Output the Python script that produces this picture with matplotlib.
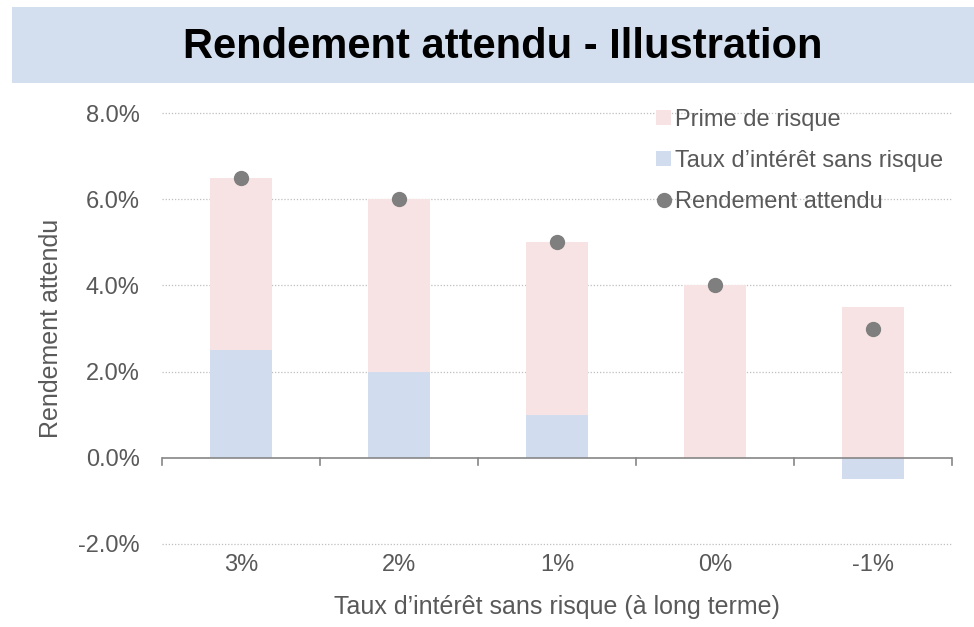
import numpy as np
import matplotlib
matplotlib.use('Agg')
import matplotlib.pyplot as plt
from matplotlib.patches import Rectangle
from matplotlib.lines import Line2D
from matplotlib.patches import Patch

plt.rcParams['font.family'] = ['Liberation Sans', 'DejaVu Sans']

# data
categories = ['3%', '2%', '1%', '0%', '-1%']
taux_sans_risque = [2.5, 2.0, 1.0, 0.0, -0.5]
prime_risque = [4.0, 4.0, 4.0, 4.0, 3.5]
rendement = [6.5, 6.0, 5.0, 4.0, 3.0]

col_pink = '#F8E3E4'
col_blue = '#D1DCEE'
col_dot = '#7F7F7F'
col_text = '#595959'

fig = plt.figure(figsize=(9.74, 6.27), dpi=100)
W, H = 974.0, 627.0

# title band
fig.patches.append(Rectangle((12 / W, 1 - 83 / H), 1 - 12 / W, 76 / H,
                             transform=fig.transFigure, facecolor='#D3DEEF',
                             edgecolor='none', zorder=0))
fig.text(503 / W, 1 - 47 / H, 'Rendement attendu - Illustration',
         ha='center', va='center', fontsize=30, fontweight='bold', color='black')

ax = fig.add_axes([162 / W, 1 - 544 / H, 790 / W, 431 / H])

x = np.arange(len(categories))
width = 0.39
# blue from 0 (negative goes down), pink on top of the positive part
bottom_pink = [max(v, 0) for v in taux_sans_risque]
ax.bar(x, taux_sans_risque, width, color=col_blue, zorder=2)
ax.bar(x, prime_risque, width, bottom=bottom_pink, color=col_pink, zorder=2)
ax.plot(x, rendement, 'o', color=col_dot, markersize=10, zorder=3)

ax.set_xlim(-0.5, len(categories) - 0.5)
ax.set_ylim(-2, 8)
ax.set_yticks([-2, 0, 2, 4, 6, 8])
ax.set_yticklabels(['%.1f%%' % v for v in [-2, 0, 2, 4, 6, 8]])
for v in [-2, 2, 4, 6, 8]:
    ax.axhline(v, color='#BFBFBF', lw=0.9, ls=(0, (1, 1.5)), zorder=1, clip_on=False)
ax.axhline(0, color='#868686', lw=1.2, zorder=4)

# category ticks between bars
ax.set_xticks(x)
ax.set_xticklabels(categories)
ax.tick_params(axis='x', length=0, pad=7, labelsize=17, labelcolor=col_text)
ax.tick_params(axis='y', length=0, pad=16, labelsize=17, labelcolor=col_text)
for xb in np.arange(-0.5, len(categories)):
    ax.plot([xb, xb], [0, -0.17], color='#868686', lw=1.2, clip_on=False, zorder=4)

for s in ax.spines.values():
    s.set_visible(False)

ax.set_xlabel("Taux d\u2019int\u00e9r\u00eat sans risque (\u00e0 long terme)",
              fontsize=18, color=col_text, labelpad=14)
ax.set_ylabel('Rendement attendu', fontsize=18, color=col_text, labelpad=11)

handles = [Patch(facecolor=col_pink, edgecolor='none'),
           Patch(facecolor=col_blue, edgecolor='none'),
           Line2D([], [], marker='o', ls='none', color=col_dot, markersize=10)]
labels = ['Prime de risque', "Taux d\u2019int\u00e9r\u00eat sans risque", 'Rendement attendu']
leg = ax.legend(handles, labels, loc='upper left', bbox_to_anchor=(0.599, 1.059),
                frameon=False, fontsize=17, labelcolor=col_text,
                handlelength=0.6, handleheight=0.6, handletextpad=0.2, labelspacing=0.8)

fig.savefig('out.png', dpi=100)
